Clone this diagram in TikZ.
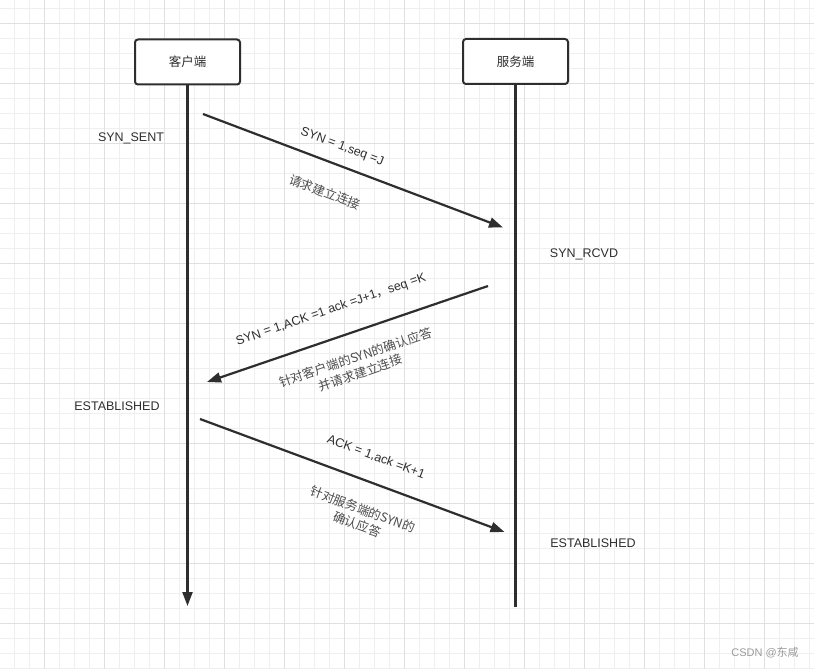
\documentclass[tikz,border=0pt]{standalone}
\usepackage{fontspec}
\setmainfont{Liberation Sans}
\newfontfamily\cjk{Noto Sans CJK SC}
\usetikzlibrary{arrows.meta}
\definecolor{ink}{HTML}{2E2E2E}
\definecolor{gridminor}{HTML}{EFEFEF}
\definecolor{gridmajor}{HTML}{E0E0E0}
\definecolor{wm}{HTML}{9A9A9A}
\tikzset{
  minorline/.style={draw=gridminor, line width=0.9pt},
  majorline/.style={draw=gridmajor, line width=0.9pt},
  party/.style={draw=ink, line width=2pt, rounded corners=3pt, minimum width=105pt, minimum height=45pt, inner sep=0pt, font=\cjk\fontsize{12.5}{15}\selectfont, text=ink},
  lifeline/.style={draw=ink, line width=2.2pt},
  tip/.style={-{Triangle[length=14pt,width=10pt]}},
  msg/.style={draw=ink, line width=2.2pt, tip},
  state/.style={font=\fontsize{12.5}{15}\selectfont, text=ink, inner sep=0pt},
  lbl/.style={font=\fontsize{12.5}{15}\selectfont, text=ink, inner sep=0pt},
  cjklbl/.style={font=\cjk\fontsize{12.5}{16}\selectfont, text=ink!85, inner sep=0pt, align=center}
}
\begin{document}
\begin{tikzpicture}[x=1pt,y=-1pt]
\useasboundingbox (0,0) rectangle (814,669);
\fill[white] (0,0) rectangle (814,669);
% grid
\foreach \i in {0,...,53} \draw[minorline] ({14.5+15*\i},0) -- ({14.5+15*\i},669);
\foreach \j in {0,...,44} \draw[minorline] (0,{8.5+15*\j}) -- (814,{8.5+15*\j});
\foreach \i in {0,...,12} \draw[majorline] ({44.5+60*\i},0) -- ({44.5+60*\i},669);
\foreach \j in {0,...,10} \draw[majorline] (0,{23.5+60*\j}) -- (814,{23.5+60*\j});

% parties
\node[party, fill=white] (client) at (187.5,62) {客户端};
\node[party, fill=white] (server) at (515.5,61.5) {服务端};

\coordinate (cend) at (187.5,606);
\coordinate (send) at (515.5,607);
\draw[lifeline, tip] (client.south) -- (cend);
\draw[lifeline] (server.south) -- (send);

% messages
\coordinate (a1s) at (203,114);
\coordinate (a1e) at (503,227.5);
\coordinate (a2s) at (488,286);
\coordinate (a2e) at (207,382);
\coordinate (a3s) at (200,419);
\coordinate (a3e) at (504.5,532);
\draw[msg] (a1s) -- (a1e);
\draw[msg] (a2s) -- (a2e);
\draw[msg] (a3s) -- (a3e);

% states
\node[state] (s1) at (131,138) {SYN\_SENT};
\node[state] (s2) at (584,254) {SYN\_RCVD};
\node[state] (s3) at (117,406) {ESTABLISHED};
\node[state] (s4) at (593,543) {ESTABLISHED};

% labels
\node[lbl, rotate=-20.6] (l1) at (342,147) {SYN = 1,seq =J};
\node[cjklbl, rotate=-20.6] (l1b) at (325,192) {请求建立连接};
\node[lbl, rotate=18.9] (l2) at (331,310) {SYN = 1,ACK =1 ack =J+1{\cjk ，}seq =K};
\node[cjklbl, rotate=18.9] (l2b) at (358,365) {针对客户端的SYN的确认应答\\并请求建立连接};
\node[lbl, rotate=-20.4] (l3) at (376,457) {ACK = 1,ack =K+1};
\node[cjklbl, rotate=-20.4] (l3b) at (360,517) {针对服务端的SYN的\\确认应答};

% watermark
\node[font=\fontsize{11}{13}\selectfont, text=wm, inner sep=0pt] (wmk) at (765,653) {CSDN @{\cjk 东咸}};
\end{tikzpicture}
\end{document}
